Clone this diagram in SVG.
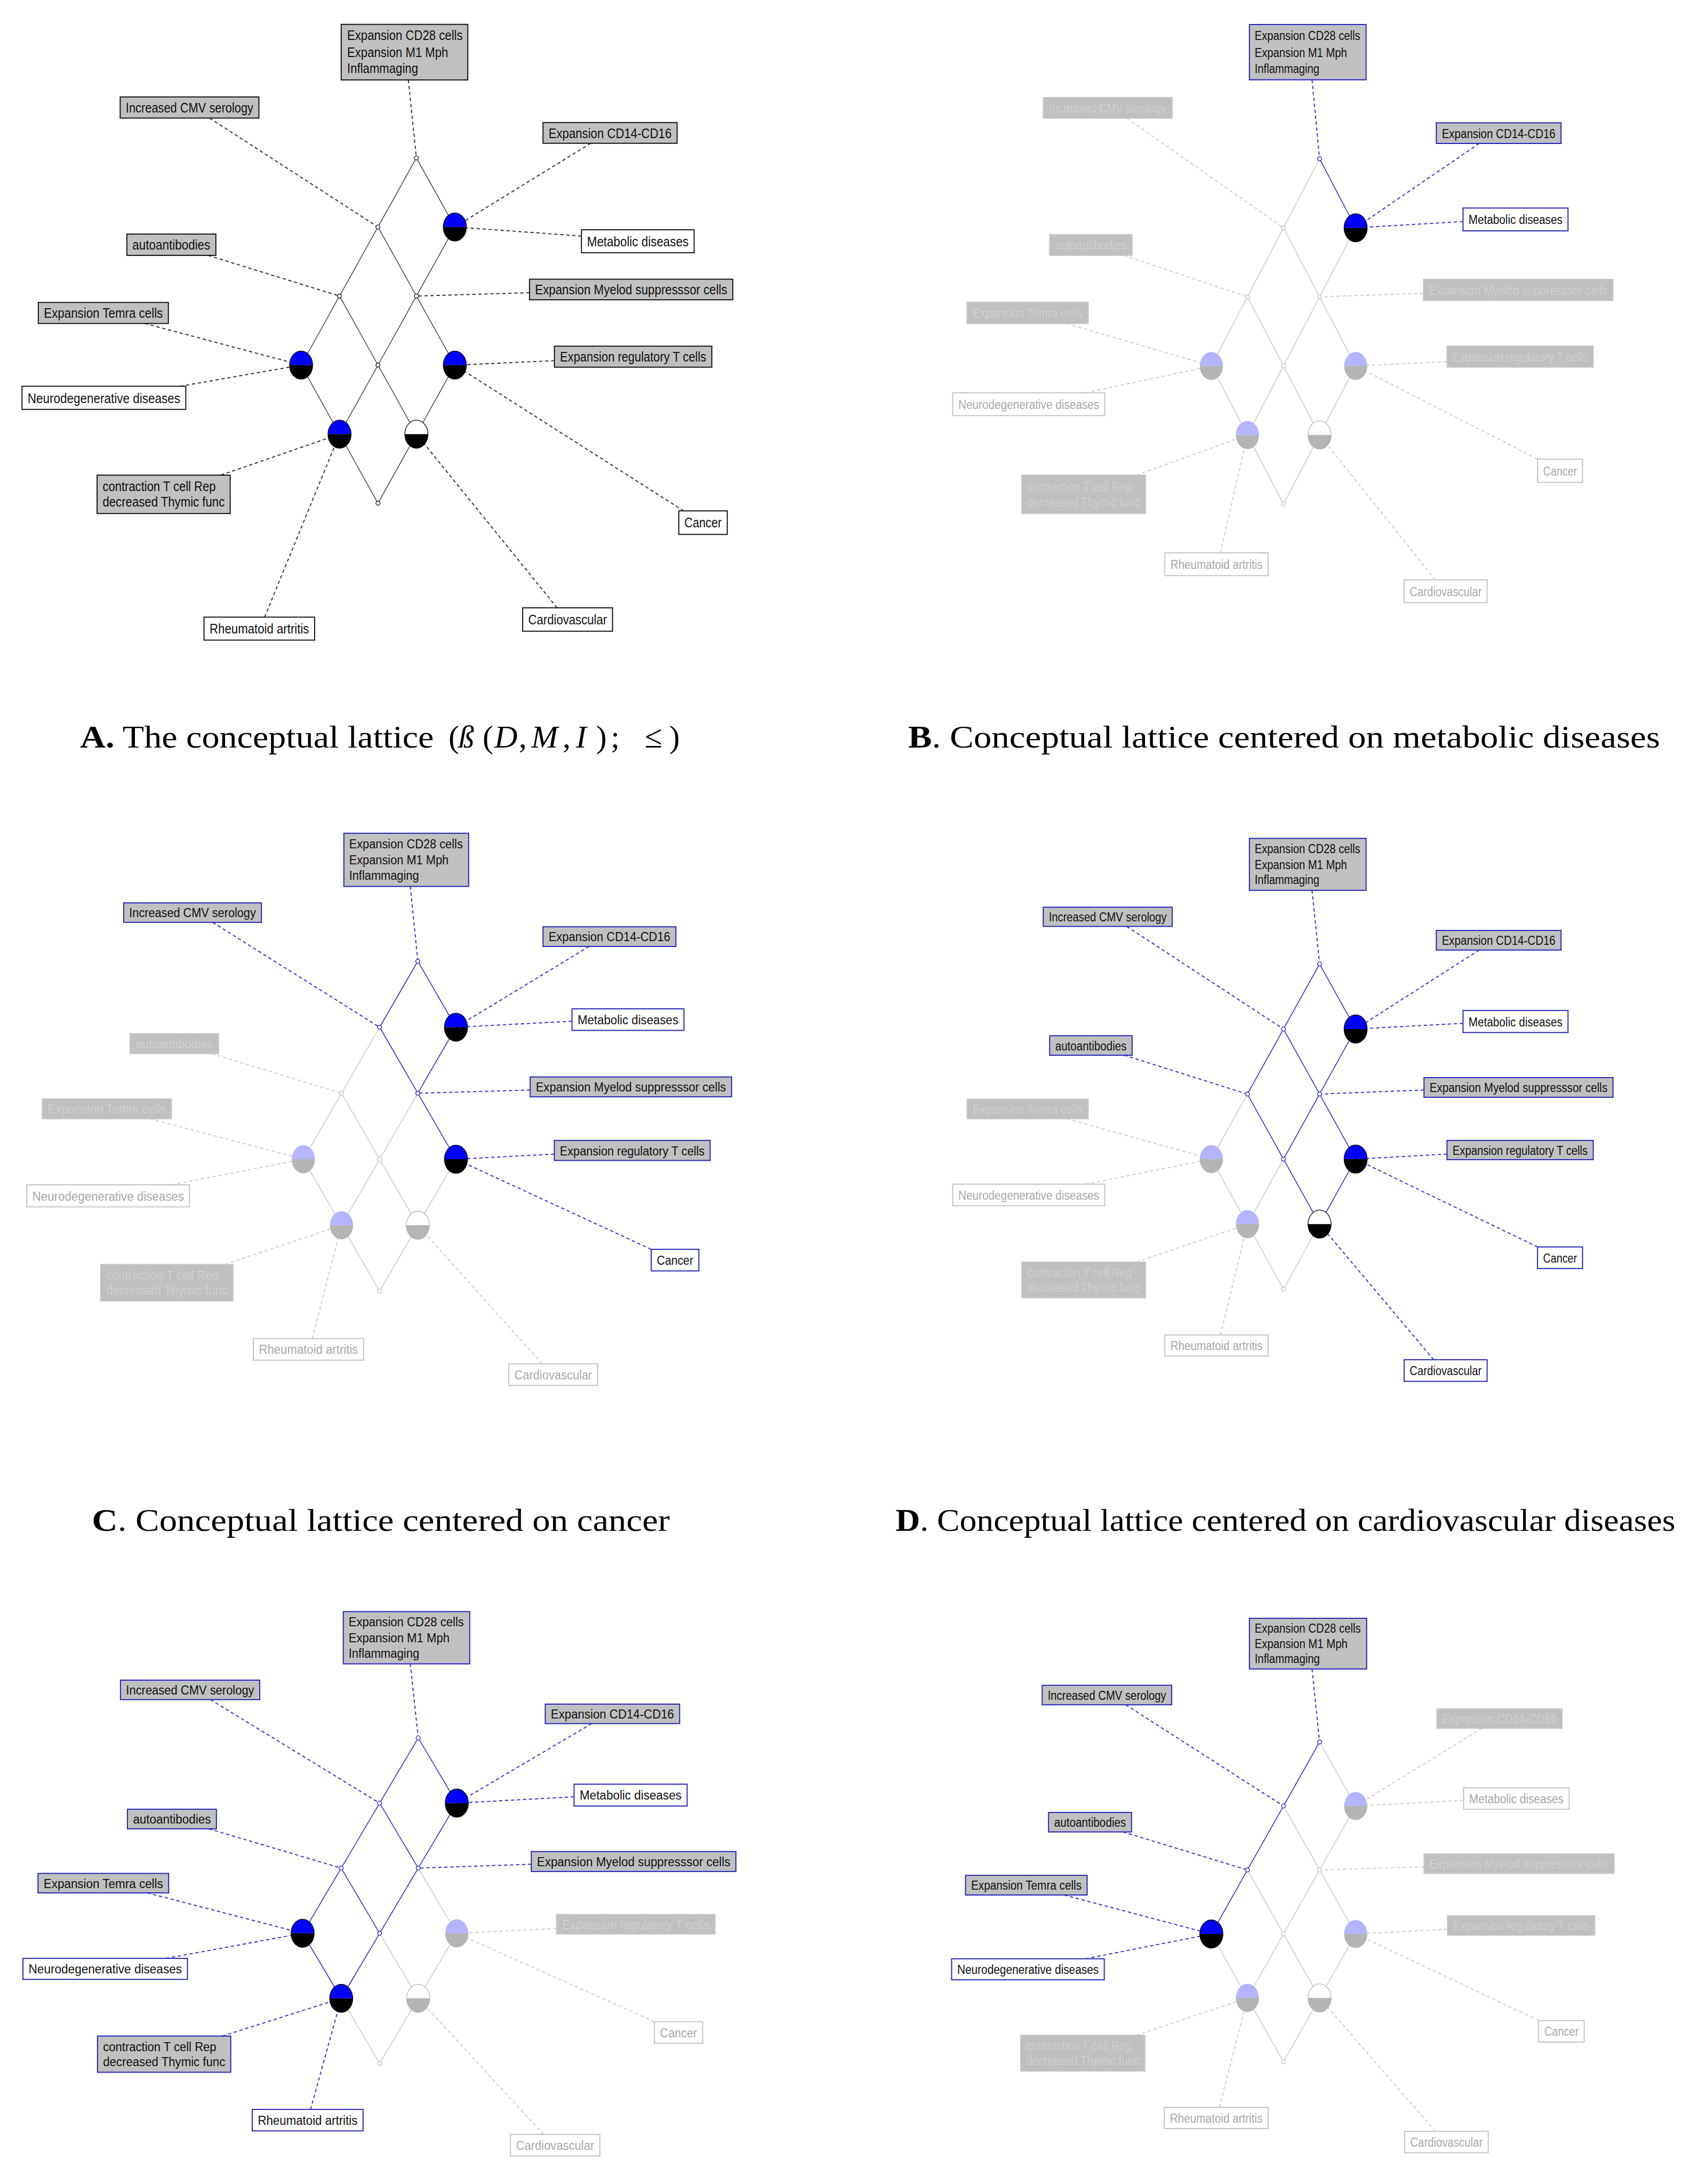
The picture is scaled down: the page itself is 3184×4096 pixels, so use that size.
<svg xmlns="http://www.w3.org/2000/svg" width="3184" height="4096" viewBox="0 0 3184 4096">
<style>
.e{fill:none;stroke:#3a3a3a;stroke-width:.55}
.eh{fill:none;stroke:#2b2bd0;stroke-width:.6}
.ef{fill:none;stroke:#c6c6c6;stroke-width:.55}
.c{fill:none;stroke:#333;stroke-width:.75;stroke-dasharray:2.4 1.9}
.ch{fill:none;stroke:#3333d6;stroke-width:.75;stroke-dasharray:2.4 1.9}
.cf{fill:none;stroke:#cdcdcd;stroke-width:.75;stroke-dasharray:2.4 1.9}
.L rect{stroke:#111;stroke-width:.75}
.g rect{fill:#c0c0c0}
.w rect{fill:#fff}
.h rect{stroke:#2222b8}
.g.f rect{stroke:#c8c8c8}
.g.f text{fill:#d0d0d0}
.w.f rect{stroke:#c2c2c2}
.w.f text{fill:#a8a8a8}
.L text{font-family:"Liberation Sans",Arial,sans-serif;font-size:9.2px;fill:#111}
#pA .L text{font-size:9.8px}
.cap{font-family:"Liberation Serif","Times New Roman",serif;font-size:23px;fill:#000}
</style>
<defs>
<g id="nbk"><path d="M-8.3 0A8.3 10.1 0 0 1 8.3 0Z" fill="#0000ff"/><path d="M-8.3 0A8.3 10.1 0 0 0 8.3 0Z" fill="#000"/><ellipse rx="8.3" ry="10.1" fill="none" stroke="#000" stroke-width=".5"/></g>
<g id="nwk"><path d="M-8.3 0A8.3 10.1 0 0 1 8.3 0Z" fill="#fff"/><path d="M-8.3 0A8.3 10.1 0 0 0 8.3 0Z" fill="#000"/><ellipse rx="8.3" ry="10.1" fill="none" stroke="#000" stroke-width=".5"/></g>
<g id="nfb"><path d="M-8.3 0A8.3 10.1 0 0 1 8.3 0Z" fill="#b5b5ff"/><path d="M-8.3 0A8.3 10.1 0 0 0 8.3 0Z" fill="#b4b4b4"/></g>
<g id="nfw"><path d="M-8.3 0A8.3 10.1 0 0 1 8.3 0Z" fill="#fff"/><path d="M-8.3 0A8.3 10.1 0 0 0 8.3 0Z" fill="#b4b4b4"/><ellipse rx="8.3" ry="10.1" fill="none" stroke="#b4b4b4" stroke-width=".5"/></g>
<circle id="sn" r="1.45" fill="#fff" stroke="#15154a" stroke-width=".55"/>
<circle id="sh" r="1.45" fill="#fff" stroke="#2626c8" stroke-width=".55"/>
<circle id="sf" r="1.45" fill="#fff" stroke="#c2c2c2" stroke-width=".55"/>
</defs>
<rect x="0" y="0" width="3184" height="4096" fill="#fff"/>
<g transform="scale(2.6115)">

<!-- ================= PANEL A ================= -->
<g id="pA">
<g id="A-connectors">
<line class="e" x1="299" y1="113.4" x2="271.4" y2="163"/>
<line class="e" x1="299" y1="113.4" x2="326.6" y2="163"/>
<line class="e" x1="271.4" y1="163" x2="243.8" y2="212.6"/>
<line class="e" x1="271.4" y1="163" x2="299" y2="212.6"/>
<line class="e" x1="326.6" y1="163" x2="299" y2="212.6"/>
<line class="e" x1="243.8" y1="212.6" x2="216.2" y2="262.2"/>
<line class="e" x1="243.8" y1="212.6" x2="271.4" y2="262.2"/>
<line class="e" x1="299" y1="212.6" x2="271.4" y2="262.2"/>
<line class="e" x1="299" y1="212.6" x2="326.6" y2="262.2"/>
<line class="e" x1="216.2" y1="262.2" x2="243.8" y2="311.8"/>
<line class="e" x1="271.4" y1="262.2" x2="243.8" y2="311.8"/>
<line class="e" x1="271.4" y1="262.2" x2="299" y2="311.8"/>
<line class="e" x1="326.6" y1="262.2" x2="299" y2="311.8"/>
<line class="e" x1="243.8" y1="311.8" x2="271.4" y2="361.4"/>
<line class="e" x1="299" y1="311.8" x2="271.4" y2="361.4"/>
<line class="c" x1="293.2" y1="57.4" x2="299" y2="113.4"/>
<line class="c" x1="150.5" y1="84.8" x2="271.4" y2="163"/>
<line class="c" x1="424.2" y1="102.9" x2="326.6" y2="163"/>
<line class="c" x1="417.5" y1="169.5" x2="326.6" y2="163"/>
<line class="c" x1="149.5" y1="183.4" x2="243.8" y2="212.6"/>
<line class="c" x1="380.2" y1="210.2" x2="299" y2="212.6"/>
<line class="c" x1="104" y1="232.3" x2="216.2" y2="262.2"/>
<line class="c" x1="129.3" y1="277.4" x2="216.2" y2="262.2"/>
<line class="c" x1="398.1" y1="259" x2="326.6" y2="262.2"/>
<line class="c" x1="490.9" y1="366.9" x2="326.6" y2="262.2"/>
<line class="c" x1="158.6" y1="341.2" x2="243.8" y2="311.8"/>
<line class="c" x1="190" y1="443.2" x2="243.8" y2="311.8"/>
<line class="c" x1="400" y1="436.5" x2="299" y2="311.8"/>
</g>
<g id="A-nodes">
<use href="#sn" x="299" y="113.4"/><use href="#sn" x="271.4" y="163"/><use href="#nbk" x="326.6" y="163"/>
<use href="#sn" x="243.8" y="212.6"/><use href="#sn" x="299" y="212.6"/>
<use href="#nbk" x="216.2" y="262.2"/><use href="#sn" x="271.4" y="262.2"/><use href="#nbk" x="326.6" y="262.2"/>
<use href="#nbk" x="243.8" y="311.8"/><use href="#nwk" x="299" y="311.8"/><use href="#sn" x="271.4" y="361.4"/>
</g>
<g id="A-labels">
<g id="A-cd28" class="L g"><rect x="245" y="17.5" width="90.9" height="39.9"/><text x="249.3" y="28.9" textLength="82.9" lengthAdjust="spacingAndGlyphs">Expansion CD28 cells</text><text x="249.3" y="41" textLength="72.5" lengthAdjust="spacingAndGlyphs">Expansion M1 Mph</text><text x="249.3" y="52.6" textLength="50.9" lengthAdjust="spacingAndGlyphs">Inflammaging</text></g>
<g id="A-cmv" class="L g"><rect x="86.3" y="69.6" width="99.6" height="15.2"/><text x="90.3" y="80.8" textLength="91.6" lengthAdjust="spacingAndGlyphs">Increased CMV serology</text></g>
<g id="A-cd14" class="L g"><rect x="389.9" y="88" width="96.3" height="14.9"/><text x="393.9" y="99" textLength="88.3" lengthAdjust="spacingAndGlyphs">Expansion CD14-CD16</text></g>
<g id="A-met" class="L w"><rect x="417.5" y="165" width="80.9" height="16.5"/><text x="421.5" y="176.8" textLength="72.9" lengthAdjust="spacingAndGlyphs">Metabolic diseases</text></g>
<g id="A-auto" class="L g"><rect x="91.1" y="168.1" width="63.9" height="15.3"/><text x="95.1" y="179.3" textLength="55.9" lengthAdjust="spacingAndGlyphs">autoantibodies</text></g>
<g id="A-myel" class="L g"><rect x="380.2" y="200.5" width="146" height="14.8"/><text x="384.2" y="211.5" textLength="138" lengthAdjust="spacingAndGlyphs">Expansion Myelod suppresssor cells</text></g>
<g id="A-temra" class="L g"><rect x="27.5" y="217.2" width="93.4" height="15.1"/><text x="31.5" y="228.3" textLength="85.4" lengthAdjust="spacingAndGlyphs">Expansion Temra cells</text></g>
<g id="A-reg" class="L g"><rect x="398.1" y="248.6" width="113" height="15.1"/><text x="402.1" y="259.7" textLength="105" lengthAdjust="spacingAndGlyphs">Expansion regulatory T cells</text></g>
<g id="A-neuro" class="L w"><rect x="15.8" y="277.4" width="117.6" height="16.6"/><text x="19.8" y="289.3" textLength="109.6" lengthAdjust="spacingAndGlyphs">Neurodegenerative diseases</text></g>
<g id="A-cancer" class="L w"><rect x="487.4" y="366.9" width="34.8" height="16.9"/><text x="491.4" y="378.9" textLength="26.8" lengthAdjust="spacingAndGlyphs">Cancer</text></g>
<g id="A-contr" class="L g"><rect x="69.7" y="341.2" width="95.6" height="27.6"/><text x="73.7" y="352.6" textLength="81.2" lengthAdjust="spacingAndGlyphs">contraction T cell Rep</text><text x="73.7" y="363.9" textLength="87.6" lengthAdjust="spacingAndGlyphs">decreased Thymic func</text></g>
<g id="A-rheum" class="L w"><rect x="146.5" y="443.2" width="79.4" height="16.5"/><text x="150.5" y="455" textLength="71.4" lengthAdjust="spacingAndGlyphs">Rheumatoid artritis</text></g>
<g id="A-cardio" class="L w"><rect x="375.3" y="436.5" width="64.5" height="16.8"/><text x="379.3" y="448.5" textLength="56.5" lengthAdjust="spacingAndGlyphs">Cardiovascular</text></g>
</g>
<text class="cap" x="57.5" y="537" textLength="254" lengthAdjust="spacingAndGlyphs"><tspan font-weight="bold">A.</tspan> The conceptual lattice</text>
<text class="cap" y="537"><tspan x="322">(</tspan><tspan x="329" font-style="italic">ß</tspan><tspan x="346.5">(</tspan><tspan x="355" font-style="italic">D</tspan><tspan x="372.5">,</tspan><tspan x="381.5" font-style="italic">M</tspan><tspan x="404">,</tspan><tspan x="413.5" font-style="italic">I</tspan><tspan x="428">)</tspan><tspan x="438.5">;</tspan><tspan x="463">≤</tspan><tspan x="480.5">)</tspan></text>
</g>

<!-- ================= PANEL B ================= -->
<g id="pB">
<g id="B-connectors">
<line class="ef" x1="947.5" y1="114" x2="921.6" y2="163.6"/>
<line class="ef" x1="921.6" y1="163.6" x2="895.7" y2="213.2"/>
<line class="ef" x1="921.6" y1="163.6" x2="947.5" y2="213.2"/>
<line class="ef" x1="973.4" y1="163.6" x2="947.5" y2="213.2"/>
<line class="ef" x1="895.7" y1="213.2" x2="869.8" y2="262.8"/>
<line class="ef" x1="895.7" y1="213.2" x2="921.6" y2="262.8"/>
<line class="ef" x1="947.5" y1="213.2" x2="921.6" y2="262.8"/>
<line class="ef" x1="947.5" y1="213.2" x2="973.4" y2="262.8"/>
<line class="ef" x1="869.8" y1="262.8" x2="895.7" y2="312.4"/>
<line class="ef" x1="921.6" y1="262.8" x2="895.7" y2="312.4"/>
<line class="ef" x1="921.6" y1="262.8" x2="947.5" y2="312.4"/>
<line class="ef" x1="973.4" y1="262.8" x2="947.5" y2="312.4"/>
<line class="ef" x1="895.7" y1="312.4" x2="921.6" y2="362"/>
<line class="ef" x1="947.5" y1="312.4" x2="921.6" y2="362"/>
<line class="eh" x1="947.5" y1="114" x2="973.4" y2="163.6"/>
<line class="cf" x1="809" y1="84.9" x2="921.6" y2="163.6"/>
<line class="cf" x1="807.1" y1="183.4" x2="895.7" y2="213.2"/>
<line class="cf" x1="1022.1" y1="210.6" x2="947.5" y2="213.2"/>
<line class="cf" x1="766" y1="232.4" x2="869.8" y2="262.8"/>
<line class="cf" x1="779.4" y1="282.1" x2="869.8" y2="262.8"/>
<line class="cf" x1="1039" y1="259.7" x2="973.4" y2="262.8"/>
<line class="cf" x1="1104" y1="329.7" x2="973.4" y2="262.8"/>
<line class="cf" x1="816" y1="341.2" x2="895.7" y2="312.4"/>
<line class="cf" x1="876.3" y1="397" x2="895.7" y2="312.4"/>
<line class="cf" x1="1030.5" y1="416.4" x2="947.5" y2="312.4"/>
<line class="ch" x1="942.1" y1="57.3" x2="947.5" y2="114"/>
<line class="ch" x1="1062.1" y1="103" x2="973.4" y2="163.6"/>
<line class="ch" x1="1050.5" y1="159.1" x2="973.4" y2="163.6"/>
</g>
<g id="B-nodes">
<use href="#sh" x="947.5" y="114"/><use href="#sf" x="921.6" y="163.6"/><use href="#nbk" x="973.4" y="163.6"/>
<use href="#sf" x="895.7" y="213.2"/><use href="#sf" x="947.5" y="213.2"/>
<use href="#nfb" x="869.8" y="262.8"/><use href="#sf" x="921.6" y="262.8"/><use href="#nfb" x="973.4" y="262.8"/>
<use href="#nfb" x="895.7" y="312.4"/><use href="#nfw" x="947.5" y="312.4"/><use href="#sf" x="921.6" y="362"/>
</g>
<g id="B-labels">
<g id="B-cd28" class="L g h"><rect x="897.1" y="17.6" width="83.8" height="39.7"/><text x="900.9" y="28.9" textLength="75.8" lengthAdjust="spacingAndGlyphs">Expansion CD28 cells</text><text x="900.9" y="41" textLength="66.3" lengthAdjust="spacingAndGlyphs">Expansion M1 Mph</text><text x="900.9" y="52.5" textLength="46.5" lengthAdjust="spacingAndGlyphs">Inflammaging</text></g>
<g id="B-cmv" class="L g f"><rect x="749.1" y="70" width="92.6" height="14.9"/><text x="753.1" y="80.8" textLength="84.6" lengthAdjust="spacingAndGlyphs">Increased CMV serology</text></g>
<g id="B-cd14" class="L g h"><rect x="1031.3" y="88.2" width="89.6" height="14.8"/><text x="1035.3" y="99" textLength="81.6" lengthAdjust="spacingAndGlyphs">Expansion CD14-CD16</text></g>
<g id="B-met" class="L w h"><rect x="1050.5" y="149.4" width="75.4" height="16.4"/><text x="1054.5" y="161" textLength="67.4" lengthAdjust="spacingAndGlyphs">Metabolic diseases</text></g>
<g id="B-auto" class="L g f"><rect x="753.7" y="168.5" width="59.2" height="14.9"/><text x="757.7" y="179.3" textLength="51.2" lengthAdjust="spacingAndGlyphs">autoantibodies</text></g>
<g id="B-myel" class="L g f"><rect x="1022.1" y="200.6" width="136.1" height="15.2"/><text x="1026.1" y="211.6" textLength="128.1" lengthAdjust="spacingAndGlyphs">Expansion Myelod suppresssor cells</text></g>
<g id="B-temra" class="L g f"><rect x="694.4" y="217" width="87" height="15.4"/><text x="698.4" y="228.1" textLength="79" lengthAdjust="spacingAndGlyphs">Expansion Temra cells</text></g>
<g id="B-reg" class="L g f"><rect x="1039" y="248.5" width="105" height="15.2"/><text x="1043" y="259.5" textLength="97" lengthAdjust="spacingAndGlyphs">Expansion regulatory T cells</text></g>
<g id="B-neuro" class="L w f"><rect x="684.1" y="282.1" width="109.2" height="16.4"/><text x="688.1" y="293.7" textLength="101.2" lengthAdjust="spacingAndGlyphs">Neurodegenerative diseases</text></g>
<g id="B-cancer" class="L w f"><rect x="1104" y="329.7" width="32.3" height="16.7"/><text x="1108" y="341.4" textLength="24.3" lengthAdjust="spacingAndGlyphs">Cancer</text></g>
<g id="B-contr" class="L g f"><rect x="733.7" y="341.2" width="88.8" height="27.6"/><text x="737.7" y="352.6" textLength="74.9" lengthAdjust="spacingAndGlyphs">contraction T cell Rep</text><text x="737.7" y="363.9" textLength="80.8" lengthAdjust="spacingAndGlyphs">decreased Thymic func</text></g>
<g id="B-rheum" class="L w f"><rect x="836.4" y="397" width="74.2" height="16.4"/><text x="840.4" y="408.6" textLength="66.2" lengthAdjust="spacingAndGlyphs">Rheumatoid artritis</text></g>
<g id="B-cardio" class="L w f"><rect x="1008.2" y="416.4" width="59.6" height="16.4"/><text x="1012.2" y="428" textLength="51.6" lengthAdjust="spacingAndGlyphs">Cardiovascular</text></g>
</g>
<text class="cap" x="652" y="537" textLength="540" lengthAdjust="spacingAndGlyphs"><tspan font-weight="bold">B</tspan>. Conceptual lattice centered on metabolic diseases</text>
</g>

<!-- ================= PANEL C ================= -->
<g id="pC">
<g id="C-connectors">
<line class="ef" x1="272.6" y1="737.7" x2="245.2" y2="785.1"/>
<line class="ef" x1="245.2" y1="785.1" x2="217.8" y2="832.5"/>
<line class="ef" x1="245.2" y1="785.1" x2="272.6" y2="832.5"/>
<line class="ef" x1="300" y1="785.1" x2="272.6" y2="832.5"/>
<line class="ef" x1="217.8" y1="832.5" x2="245.2" y2="879.9"/>
<line class="ef" x1="272.6" y1="832.5" x2="245.2" y2="879.9"/>
<line class="ef" x1="272.6" y1="832.5" x2="300" y2="879.9"/>
<line class="ef" x1="327.4" y1="832.5" x2="300" y2="879.9"/>
<line class="ef" x1="245.2" y1="879.9" x2="272.6" y2="927.3"/>
<line class="ef" x1="300" y1="879.9" x2="272.6" y2="927.3"/>
<line class="eh" x1="300" y1="690.3" x2="272.6" y2="737.7"/>
<line class="eh" x1="300" y1="690.3" x2="327.4" y2="737.7"/>
<line class="eh" x1="272.6" y1="737.7" x2="300" y2="785.1"/>
<line class="eh" x1="327.4" y1="737.7" x2="300" y2="785.1"/>
<line class="eh" x1="300" y1="785.1" x2="327.4" y2="832.5"/>
<line class="cf" x1="151.9" y1="756.7" x2="245.2" y2="785.1"/>
<line class="cf" x1="107.7" y1="803.5" x2="217.8" y2="832.5"/>
<line class="cf" x1="123.1" y1="850.9" x2="217.8" y2="832.5"/>
<line class="cf" x1="161.5" y1="908.1" x2="245.2" y2="879.9"/>
<line class="cf" x1="224.2" y1="961.3" x2="245.2" y2="879.9"/>
<line class="cf" x1="389.2" y1="979.4" x2="300" y2="879.9"/>
<line class="ch" x1="294.6" y1="636.6" x2="300" y2="690.3"/>
<line class="ch" x1="152.7" y1="662.4" x2="272.6" y2="737.7"/>
<line class="ch" x1="423" y1="679.7" x2="327.4" y2="737.7"/>
<line class="ch" x1="410.7" y1="733.4" x2="327.4" y2="737.7"/>
<line class="ch" x1="380.7" y1="782.8" x2="300" y2="785.1"/>
<line class="ch" x1="398" y1="828.8" x2="327.4" y2="832.5"/>
<line class="ch" x1="467.6" y1="897.2" x2="327.4" y2="832.5"/>
</g>
<g id="C-nodes">
<use href="#sh" x="300" y="690.3"/><use href="#sh" x="272.6" y="737.7"/><use href="#nbk" x="327.4" y="737.7"/>
<use href="#sf" x="245.2" y="785.1"/><use href="#sh" x="300" y="785.1"/>
<use href="#nfb" x="217.8" y="832.5"/><use href="#sf" x="272.6" y="832.5"/><use href="#nbk" x="327.4" y="832.5"/>
<use href="#nfb" x="245.2" y="879.9"/><use href="#nfw" x="300" y="879.9"/><use href="#sf" x="272.6" y="927.3"/>
</g>
<g id="C-labels">
<g id="C-cd28" class="L g h"><rect x="246.9" y="598.4" width="89.6" height="38.2"/><text x="250.7" y="609.3" textLength="81.6" lengthAdjust="spacingAndGlyphs">Expansion CD28 cells</text><text x="250.7" y="620.9" textLength="71.4" lengthAdjust="spacingAndGlyphs">Expansion M1 Mph</text><text x="250.7" y="632" textLength="50.1" lengthAdjust="spacingAndGlyphs">Inflammaging</text></g>
<g id="C-cmv" class="L g h"><rect x="88.8" y="648.4" width="98.9" height="14"/><text x="92.8" y="658.8" textLength="90.9" lengthAdjust="spacingAndGlyphs">Increased CMV serology</text></g>
<g id="C-cd14" class="L g h"><rect x="389.9" y="665.6" width="95.4" height="14.1"/><text x="393.9" y="676" textLength="87.4" lengthAdjust="spacingAndGlyphs">Expansion CD14-CD16</text></g>
<g id="C-met" class="L w h"><rect x="410.7" y="724.5" width="80.4" height="15.5"/><text x="414.7" y="735.6" textLength="72.4" lengthAdjust="spacingAndGlyphs">Metabolic diseases</text></g>
<g id="C-auto" class="L g f"><rect x="93.4" y="742.3" width="63.5" height="14.4"/><text x="97.4" y="752.9" textLength="55.5" lengthAdjust="spacingAndGlyphs">autoantibodies</text></g>
<g id="C-myel" class="L g h"><rect x="380.7" y="773.4" width="144.6" height="14.3"/><text x="384.7" y="783.9" textLength="136.6" lengthAdjust="spacingAndGlyphs">Expansion Myelod suppresssor cells</text></g>
<g id="C-temra" class="L g f"><rect x="30.4" y="789.2" width="92.7" height="14.3"/><text x="34.4" y="799.7" textLength="84.7" lengthAdjust="spacingAndGlyphs">Expansion Temra cells</text></g>
<g id="C-reg" class="L g h"><rect x="398" y="819" width="111.9" height="14.4"/><text x="402" y="829.6" textLength="103.9" lengthAdjust="spacingAndGlyphs">Expansion regulatory T cells</text></g>
<g id="C-neuro" class="L w f"><rect x="19.2" y="850.9" width="116.9" height="15.8"/><text x="23.2" y="862.2" textLength="108.9" lengthAdjust="spacingAndGlyphs">Neurodegenerative diseases</text></g>
<g id="C-cancer" class="L w h"><rect x="467.6" y="897.2" width="34.2" height="15.5"/><text x="471.6" y="908.3" textLength="26.2" lengthAdjust="spacingAndGlyphs">Cancer</text></g>
<g id="C-contr" class="L g f"><rect x="72.3" y="908.1" width="95" height="26.2"/><text x="76.3" y="919" textLength="80.6" lengthAdjust="spacingAndGlyphs">contraction T cell Rep</text><text x="76.3" y="929.7" textLength="87" lengthAdjust="spacingAndGlyphs">decreased Thymic func</text></g>
<g id="C-rheum" class="L w f"><rect x="181.9" y="961.3" width="79.2" height="15.5"/><text x="185.9" y="972.4" textLength="71.2" lengthAdjust="spacingAndGlyphs">Rheumatoid artritis</text></g>
<g id="C-cardio" class="L w f"><rect x="365.3" y="979.4" width="63.9" height="15.5"/><text x="369.3" y="990.5" textLength="55.9" lengthAdjust="spacingAndGlyphs">Cardiovascular</text></g>
</g>
<text class="cap" x="66" y="1099.5" textLength="415" lengthAdjust="spacingAndGlyphs"><tspan font-weight="bold">C</tspan>. Conceptual lattice centered on cancer</text>
</g>

<!-- ================= PANEL D ================= -->
<g id="pD">
<g id="D-connectors">
<line class="ef" x1="895.7" y1="785.7" x2="869.8" y2="832.4"/>
<line class="ef" x1="869.8" y1="832.4" x2="895.7" y2="879.1"/>
<line class="ef" x1="921.6" y1="832.4" x2="895.7" y2="879.1"/>
<line class="ef" x1="895.7" y1="879.1" x2="921.6" y2="925.8"/>
<line class="ef" x1="947.5" y1="879.1" x2="921.6" y2="925.8"/>
<line class="eh" x1="947.5" y1="692.3" x2="921.6" y2="739"/>
<line class="eh" x1="947.5" y1="692.3" x2="973.4" y2="739"/>
<line class="eh" x1="921.6" y1="739" x2="895.7" y2="785.7"/>
<line class="eh" x1="921.6" y1="739" x2="947.5" y2="785.7"/>
<line class="eh" x1="973.4" y1="739" x2="947.5" y2="785.7"/>
<line class="eh" x1="895.7" y1="785.7" x2="921.6" y2="832.4"/>
<line class="eh" x1="947.5" y1="785.7" x2="921.6" y2="832.4"/>
<line class="eh" x1="947.5" y1="785.7" x2="973.4" y2="832.4"/>
<line class="eh" x1="921.6" y1="832.4" x2="947.5" y2="879.1"/>
<line class="eh" x1="973.4" y1="832.4" x2="947.5" y2="879.1"/>
<line class="cf" x1="766" y1="803.5" x2="869.8" y2="832.4"/>
<line class="cf" x1="779.4" y1="850.4" x2="869.8" y2="832.4"/>
<line class="cf" x1="816" y1="906.4" x2="895.7" y2="879.1"/>
<line class="cf" x1="876.3" y1="958.7" x2="895.7" y2="879.1"/>
<line class="ch" x1="942.1" y1="639.4" x2="947.5" y2="692.3"/>
<line class="ch" x1="809" y1="665.3" x2="921.6" y2="739"/>
<line class="ch" x1="1062.1" y1="682.3" x2="973.4" y2="739"/>
<line class="ch" x1="1050.5" y1="734.9" x2="973.4" y2="739"/>
<line class="ch" x1="807.1" y1="757.8" x2="895.7" y2="785.7"/>
<line class="ch" x1="1022.5" y1="782.8" x2="947.5" y2="785.7"/>
<line class="ch" x1="1039" y1="828.8" x2="973.4" y2="832.4"/>
<line class="ch" x1="1104" y1="895.5" x2="973.4" y2="832.4"/>
<line class="ch" x1="1029.4" y1="976.5" x2="947.5" y2="879.1"/>
</g>
<g id="D-nodes">
<use href="#sh" x="947.5" y="692.3"/><use href="#sh" x="921.6" y="739"/><use href="#nbk" x="973.4" y="739"/>
<use href="#sh" x="895.7" y="785.7"/><use href="#sh" x="947.5" y="785.7"/>
<use href="#nfb" x="869.8" y="832.4"/><use href="#sh" x="921.6" y="832.4"/><use href="#nbk" x="973.4" y="832.4"/>
<use href="#nfb" x="895.7" y="879.1"/><use href="#nwk" x="947.5" y="879.1"/><use href="#sf" x="921.6" y="925.8"/>
</g>
<g id="D-labels">
<g id="D-cd28" class="L g h"><rect x="897.1" y="602.1" width="83.8" height="37.3"/><text x="900.9" y="612.7" textLength="75.8" lengthAdjust="spacingAndGlyphs">Expansion CD28 cells</text><text x="900.9" y="624.1" textLength="66.3" lengthAdjust="spacingAndGlyphs">Expansion M1 Mph</text><text x="900.9" y="634.9" textLength="46.5" lengthAdjust="spacingAndGlyphs">Inflammaging</text></g>
<g id="D-cmv" class="L g h"><rect x="749.1" y="651.5" width="92.6" height="13.8"/><text x="753.1" y="661.8" textLength="84.6" lengthAdjust="spacingAndGlyphs">Increased CMV serology</text></g>
<g id="D-cd14" class="L g h"><rect x="1031.3" y="668.2" width="89.6" height="14.1"/><text x="1035.3" y="678.6" textLength="81.6" lengthAdjust="spacingAndGlyphs">Expansion CD14-CD16</text></g>
<g id="D-met" class="L w h"><rect x="1050.5" y="725.7" width="75.4" height="15.8"/><text x="1054.5" y="737" textLength="67.4" lengthAdjust="spacingAndGlyphs">Metabolic diseases</text></g>
<g id="D-auto" class="L g h"><rect x="753.7" y="743.8" width="59.2" height="14"/><text x="757.7" y="754.2" textLength="51.2" lengthAdjust="spacingAndGlyphs">autoantibodies</text></g>
<g id="D-myel" class="L g h"><rect x="1022.5" y="773.9" width="135.7" height="14.1"/><text x="1026.5" y="784.3" textLength="127.7" lengthAdjust="spacingAndGlyphs">Expansion Myelod suppresssor cells</text></g>
<g id="D-temra" class="L g f"><rect x="694.4" y="789.4" width="87" height="14.1"/><text x="698.4" y="799.8" textLength="79" lengthAdjust="spacingAndGlyphs">Expansion Temra cells</text></g>
<g id="D-reg" class="L g h"><rect x="1039" y="819" width="105" height="13.8"/><text x="1043" y="829.3" textLength="97" lengthAdjust="spacingAndGlyphs">Expansion regulatory T cells</text></g>
<g id="D-neuro" class="L w f"><rect x="684.1" y="850.4" width="109.2" height="15.5"/><text x="688.1" y="861.5" textLength="101.2" lengthAdjust="spacingAndGlyphs">Neurodegenerative diseases</text></g>
<g id="D-cancer" class="L w h"><rect x="1104" y="895.5" width="32.3" height="15.5"/><text x="1108" y="906.6" textLength="24.3" lengthAdjust="spacingAndGlyphs">Cancer</text></g>
<g id="D-contr" class="L g f"><rect x="733.7" y="906.4" width="88.8" height="25.6"/><text x="737.7" y="917.1" textLength="74.9" lengthAdjust="spacingAndGlyphs">contraction T cell Rep</text><text x="737.7" y="927.7" textLength="80.8" lengthAdjust="spacingAndGlyphs">decreased Thymic func</text></g>
<g id="D-rheum" class="L w f"><rect x="836.4" y="958.7" width="74.2" height="15.2"/><text x="840.4" y="969.7" textLength="66.2" lengthAdjust="spacingAndGlyphs">Rheumatoid artritis</text></g>
<g id="D-cardio" class="L w h"><rect x="1008.2" y="976.5" width="59.6" height="15.5"/><text x="1012.2" y="987.6" textLength="51.6" lengthAdjust="spacingAndGlyphs">Cardiovascular</text></g>
</g>
<text class="cap" x="643" y="1099.5" textLength="560" lengthAdjust="spacingAndGlyphs"><tspan font-weight="bold">D</tspan>. Conceptual lattice centered on cardiovascular diseases</text>
</g>

<!-- ================= PANEL E ================= -->
<g id="pE">
<g id="E-connectors">
<line class="ef" x1="300.3" y1="1341.6" x2="328" y2="1388.4"/>
<line class="ef" x1="272.6" y1="1388.4" x2="300.3" y2="1435.1"/>
<line class="ef" x1="328" y1="1388.4" x2="300.3" y2="1435.1"/>
<line class="ef" x1="245" y1="1435.1" x2="272.6" y2="1481.9"/>
<line class="ef" x1="300.3" y1="1435.1" x2="272.6" y2="1481.9"/>
<line class="eh" x1="300.3" y1="1248.1" x2="272.6" y2="1294.9"/>
<line class="eh" x1="300.3" y1="1248.1" x2="328" y2="1294.9"/>
<line class="eh" x1="272.6" y1="1294.9" x2="245" y2="1341.6"/>
<line class="eh" x1="272.6" y1="1294.9" x2="300.3" y2="1341.6"/>
<line class="eh" x1="328" y1="1294.9" x2="300.3" y2="1341.6"/>
<line class="eh" x1="245" y1="1341.6" x2="217.3" y2="1388.4"/>
<line class="eh" x1="245" y1="1341.6" x2="272.6" y2="1388.4"/>
<line class="eh" x1="300.3" y1="1341.6" x2="272.6" y2="1388.4"/>
<line class="eh" x1="217.3" y1="1388.4" x2="245" y2="1435.1"/>
<line class="eh" x1="272.6" y1="1388.4" x2="245" y2="1435.1"/>
<line class="cf" x1="399.6" y1="1384.9" x2="328" y2="1388.4"/>
<line class="cf" x1="469.9" y1="1451.9" x2="328" y2="1388.4"/>
<line class="cf" x1="390.3" y1="1532.9" x2="300.3" y2="1435.1"/>
<line class="ch" x1="294.6" y1="1194.9" x2="300.3" y2="1248.1"/>
<line class="ch" x1="151.1" y1="1220.6" x2="272.6" y2="1294.9"/>
<line class="ch" x1="424.9" y1="1237.8" x2="328" y2="1294.9"/>
<line class="ch" x1="412.2" y1="1290.4" x2="328" y2="1294.9"/>
<line class="ch" x1="150" y1="1313.4" x2="245" y2="1341.6"/>
<line class="ch" x1="381.5" y1="1338.8" x2="300.3" y2="1341.6"/>
<line class="ch" x1="105.8" y1="1359.4" x2="217.3" y2="1388.4"/>
<line class="ch" x1="119.2" y1="1406.4" x2="217.3" y2="1388.4"/>
<line class="ch" x1="159.6" y1="1462.2" x2="245" y2="1435.1"/>
<line class="ch" x1="223" y1="1514.9" x2="245" y2="1435.1"/>
</g>
<g id="E-nodes">
<use href="#sh" x="300.3" y="1248.1"/><use href="#sh" x="272.6" y="1294.9"/><use href="#nbk" x="328" y="1294.9"/>
<use href="#sh" x="245" y="1341.6"/><use href="#sh" x="300.3" y="1341.6"/>
<use href="#nbk" x="217.3" y="1388.4"/><use href="#sh" x="272.6" y="1388.4"/><use href="#nfb" x="328" y="1388.4"/>
<use href="#nbk" x="245" y="1435.1"/><use href="#nfw" x="300.3" y="1435.1"/><use href="#sf" x="272.6" y="1481.9"/>
</g>
<g id="E-labels">
<g id="E-cd28" class="L g h"><rect x="246.5" y="1157.4" width="90.8" height="37.5"/><text x="250.3" y="1168.1" textLength="82.8" lengthAdjust="spacingAndGlyphs">Expansion CD28 cells</text><text x="250.3" y="1179.5" textLength="72.5" lengthAdjust="spacingAndGlyphs">Expansion M1 Mph</text><text x="250.3" y="1190.4" textLength="50.8" lengthAdjust="spacingAndGlyphs">Inflammaging</text></g>
<g id="E-cmv" class="L g h"><rect x="86.5" y="1206.6" width="100" height="14"/><text x="90.5" y="1217" textLength="92" lengthAdjust="spacingAndGlyphs">Increased CMV serology</text></g>
<g id="E-cd14" class="L g h"><rect x="391.5" y="1223.8" width="96.5" height="14"/><text x="395.5" y="1234.2" textLength="88.5" lengthAdjust="spacingAndGlyphs">Expansion CD14-CD16</text></g>
<g id="E-met" class="L w h"><rect x="412.2" y="1281.3" width="81.2" height="15.7"/><text x="416.2" y="1292.5" textLength="73.2" lengthAdjust="spacingAndGlyphs">Metabolic diseases</text></g>
<g id="E-auto" class="L g h"><rect x="91.5" y="1299.3" width="63.9" height="14.1"/><text x="95.5" y="1309.7" textLength="55.9" lengthAdjust="spacingAndGlyphs">autoantibodies</text></g>
<g id="E-myel" class="L g h"><rect x="381.5" y="1329.7" width="146.9" height="14.3"/><text x="385.5" y="1340.2" textLength="138.9" lengthAdjust="spacingAndGlyphs">Expansion Myelod suppresssor cells</text></g>
<g id="E-temra" class="L g h"><rect x="27.3" y="1345.4" width="93.8" height="14"/><text x="31.3" y="1355.8" textLength="85.8" lengthAdjust="spacingAndGlyphs">Expansion Temra cells</text></g>
<g id="E-reg" class="L g f"><rect x="399.6" y="1374.9" width="113.8" height="14"/><text x="403.6" y="1385.3" textLength="105.8" lengthAdjust="spacingAndGlyphs">Expansion regulatory T cells</text></g>
<g id="E-neuro" class="L w h"><rect x="16.5" y="1406.4" width="118.1" height="15.1"/><text x="20.5" y="1417.3" textLength="110.1" lengthAdjust="spacingAndGlyphs">Neurodegenerative diseases</text></g>
<g id="E-cancer" class="L w f"><rect x="469.9" y="1451.9" width="34.6" height="15.4"/><text x="473.9" y="1463" textLength="26.6" lengthAdjust="spacingAndGlyphs">Cancer</text></g>
<g id="E-contr" class="L g h"><rect x="70" y="1462.2" width="95.7" height="26"/><text x="74" y="1473" textLength="81.3" lengthAdjust="spacingAndGlyphs">contraction T cell Rep</text><text x="74" y="1483.8" textLength="87.7" lengthAdjust="spacingAndGlyphs">decreased Thymic func</text></g>
<g id="E-rheum" class="L w h"><rect x="181.1" y="1514.9" width="79.6" height="15.4"/><text x="185.1" y="1526" textLength="71.6" lengthAdjust="spacingAndGlyphs">Rheumatoid artritis</text></g>
<g id="E-cardio" class="L w f"><rect x="366.5" y="1532.9" width="64.2" height="15.4"/><text x="370.5" y="1544" textLength="56.2" lengthAdjust="spacingAndGlyphs">Cardiovascular</text></g>
</g>
</g>

<!-- ================= PANEL F ================= -->
<g id="pF">
<g id="F-connectors">
<line class="ef" x1="947.5" y1="1251" x2="973.4" y2="1297"/>
<line class="ef" x1="921.6" y1="1297" x2="947.5" y2="1342.9"/>
<line class="ef" x1="973.4" y1="1297" x2="947.5" y2="1342.9"/>
<line class="ef" x1="895.7" y1="1342.9" x2="921.6" y2="1388.9"/>
<line class="ef" x1="947.5" y1="1342.9" x2="921.6" y2="1388.9"/>
<line class="ef" x1="947.5" y1="1342.9" x2="973.4" y2="1388.9"/>
<line class="ef" x1="869.8" y1="1388.9" x2="895.7" y2="1434.8"/>
<line class="ef" x1="921.6" y1="1388.9" x2="895.7" y2="1434.8"/>
<line class="ef" x1="921.6" y1="1388.9" x2="947.5" y2="1434.8"/>
<line class="ef" x1="973.4" y1="1388.9" x2="947.5" y2="1434.8"/>
<line class="ef" x1="895.7" y1="1434.8" x2="921.6" y2="1480.8"/>
<line class="ef" x1="947.5" y1="1434.8" x2="921.6" y2="1480.8"/>
<line class="eh" x1="947.5" y1="1251" x2="921.6" y2="1297"/>
<line class="eh" x1="921.6" y1="1297" x2="895.7" y2="1342.9"/>
<line class="eh" x1="895.7" y1="1342.9" x2="869.8" y2="1388.9"/>
<line class="cf" x1="1064" y1="1241.2" x2="973.4" y2="1297"/>
<line class="cf" x1="1050.9" y1="1293" x2="973.4" y2="1297"/>
<line class="cf" x1="1022.5" y1="1340.6" x2="947.5" y2="1342.9"/>
<line class="cf" x1="1039.4" y1="1385.5" x2="973.4" y2="1388.9"/>
<line class="cf" x1="1104.8" y1="1451" x2="973.4" y2="1388.9"/>
<line class="cf" x1="816" y1="1461.6" x2="895.7" y2="1434.8"/>
<line class="cf" x1="875.6" y1="1513.4" x2="895.7" y2="1434.8"/>
<line class="cf" x1="1030.5" y1="1530.6" x2="947.5" y2="1434.8"/>
<line class="ch" x1="942.1" y1="1198.6" x2="947.5" y2="1251"/>
<line class="ch" x1="808.3" y1="1224.3" x2="921.6" y2="1297"/>
<line class="ch" x1="806.4" y1="1315.6" x2="895.7" y2="1342.9"/>
<line class="ch" x1="764.1" y1="1360.9" x2="869.8" y2="1388.9"/>
<line class="ch" x1="779.4" y1="1406.7" x2="869.8" y2="1388.9"/>
</g>
<g id="F-nodes">
<use href="#sh" x="947.5" y="1251"/><use href="#sh" x="921.6" y="1297"/><use href="#nfb" x="973.4" y="1297"/>
<use href="#sh" x="895.7" y="1342.9"/><use href="#sf" x="947.5" y="1342.9"/>
<use href="#nbk" x="869.8" y="1388.9"/><use href="#sf" x="921.6" y="1388.9"/><use href="#nfb" x="973.4" y="1388.9"/>
<use href="#nfb" x="895.7" y="1434.8"/><use href="#nfw" x="947.5" y="1434.8"/><use href="#sf" x="921.6" y="1480.8"/>
</g>
<g id="F-labels">
<g id="F-cd28" class="L g h"><rect x="897.1" y="1162.2" width="84.2" height="36.4"/><text x="900.9" y="1172.6" textLength="76.2" lengthAdjust="spacingAndGlyphs">Expansion CD28 cells</text><text x="900.9" y="1183.7" textLength="66.7" lengthAdjust="spacingAndGlyphs">Expansion M1 Mph</text><text x="900.9" y="1194.2" textLength="46.8" lengthAdjust="spacingAndGlyphs">Inflammaging</text></g>
<g id="F-cmv" class="L g h"><rect x="748.3" y="1210.3" width="93" height="14"/><text x="752.3" y="1220.7" textLength="85" lengthAdjust="spacingAndGlyphs">Increased CMV serology</text></g>
<g id="F-cd14" class="L g f"><rect x="1031.7" y="1227.2" width="90" height="14"/><text x="1035.7" y="1237.6" textLength="82" lengthAdjust="spacingAndGlyphs">Expansion CD14-CD16</text></g>
<g id="F-met" class="L w f"><rect x="1050.9" y="1283.9" width="75.8" height="15.4"/><text x="1054.9" y="1295" textLength="67.8" lengthAdjust="spacingAndGlyphs">Metabolic diseases</text></g>
<g id="F-auto" class="L g h"><rect x="752.9" y="1301.6" width="59.6" height="14"/><text x="756.9" y="1312" textLength="51.6" lengthAdjust="spacingAndGlyphs">autoantibodies</text></g>
<g id="F-myel" class="L g f"><rect x="1022.5" y="1331.4" width="136.5" height="14"/><text x="1026.5" y="1341.8" textLength="128.5" lengthAdjust="spacingAndGlyphs">Expansion Myelod suppresssor cells</text></g>
<g id="F-temra" class="L g h"><rect x="693.3" y="1346.8" width="87.3" height="14.1"/><text x="697.3" y="1357.2" textLength="79.3" lengthAdjust="spacingAndGlyphs">Expansion Temra cells</text></g>
<g id="F-reg" class="L g f"><rect x="1039.4" y="1375.8" width="105.7" height="14"/><text x="1043.4" y="1386.2" textLength="97.7" lengthAdjust="spacingAndGlyphs">Expansion regulatory T cells</text></g>
<g id="F-neuro" class="L w h"><rect x="683.3" y="1406.7" width="109.6" height="15.1"/><text x="687.3" y="1417.6" textLength="101.6" lengthAdjust="spacingAndGlyphs">Neurodegenerative diseases</text></g>
<g id="F-cancer" class="L w f"><rect x="1104.8" y="1451" width="32.7" height="15.5"/><text x="1108.8" y="1462.1" textLength="24.7" lengthAdjust="spacingAndGlyphs">Cancer</text></g>
<g id="F-contr" class="L g f"><rect x="732.9" y="1461.6" width="89.2" height="25.8"/><text x="736.9" y="1472.3" textLength="75.3" lengthAdjust="spacingAndGlyphs">contraction T cell Rep</text><text x="736.9" y="1483" textLength="81.2" lengthAdjust="spacingAndGlyphs">decreased Thymic func</text></g>
<g id="F-rheum" class="L w f"><rect x="836" y="1513.4" width="74.6" height="15.2"/><text x="840" y="1524.4" textLength="66.6" lengthAdjust="spacingAndGlyphs">Rheumatoid artritis</text></g>
<g id="F-cardio" class="L w f"><rect x="1008.6" y="1530.6" width="60" height="15.4"/><text x="1012.6" y="1541.7" textLength="52" lengthAdjust="spacingAndGlyphs">Cardiovascular</text></g>
</g>
</g>

</g>
</svg>
